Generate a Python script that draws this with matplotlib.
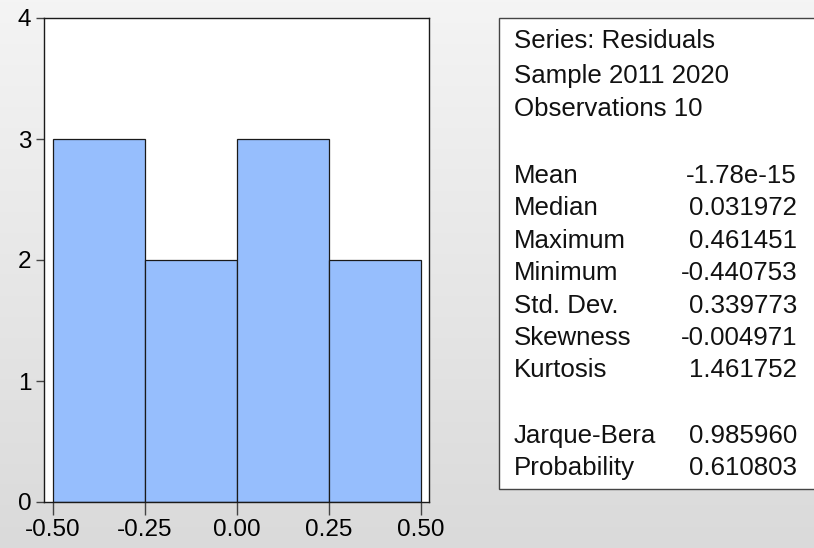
import numpy as np
import matplotlib
matplotlib.use("Agg")
import matplotlib.pyplot as plt
from matplotlib.patches import Rectangle

plt.rcParams['font.family'] = ['Liberation Sans', 'DejaVu Sans']

# Data
bin_edges = [-0.50, -0.25, 0.00, 0.25]
bin_width = 0.25
counts = [3, 2, 3, 2]
xticks = [-0.50, -0.25, 0.00, 0.25, 0.50]
xtick_labels = ["-0.50", "-0.25", "0.00", "0.25", "0.50"]
yticks = [0, 1, 2, 3, 4]

header_lines = ["Series: Residuals", "Sample 2011 2020", "Observations 10"]
stat_names = ["Mean", "Median", "Maximum", "Minimum", "Std. Dev.", "Skewness", "Kurtosis"]
stat_values = ["-1.78e-15", "0.031972", "0.461451", "-0.440753", "0.339773", "-0.004971", "1.461752"]
test_names = ["Jarque-Bera", "Probability"]
test_values = ["0.985960", "0.610803"]

W, H = 814, 548
fig = plt.figure(figsize=(W / 100, H / 100), dpi=100)

# gradient background
bg = fig.add_axes([0, 0, 1, 1], zorder=-10)
grad = np.linspace(0, 1, 256).reshape(-1, 1)
top_c = np.array([0.957, 0.957, 0.957])
bot_c = np.array([0.855, 0.855, 0.855])
img = top_c + (bot_c - top_c) * grad
img = np.repeat(img[:, None, :], 2, axis=1)
bg.imshow(img, aspect='auto', extent=[0, 1, 0, 1])
bg.set_axis_off()

def fx(px):
    return px / W

def fy(py):
    return 1 - py / H

ax = fig.add_axes([fx(44), fy(502), fx(429) - fx(44), fy(18) - fy(502)])
ax.bar(bin_edges, counts, width=bin_width, align='edge', color='#96befd',
       edgecolor='#1a1a1a', linewidth=0.9)
ax.set_xlim(-0.5245, 0.5217)
ax.set_ylim(0, 4)
ax.set_xticks(xticks)
ax.set_xticklabels(xtick_labels)
ax.set_yticks(yticks)
for s in ax.spines.values():
    s.set_color('#1a1a1a')
    s.set_linewidth(1.0)
ax.tick_params(axis='x', direction='out', length=9, width=1, color='#444444', pad=3, labelsize=17.5)
ax.tick_params(axis='y', direction='out', length=6, width=1, color='#444444', pad=3, labelsize=17.5)

# stats box
box = Rectangle((fx(499), fy(489)), 1.2, fy(18) - fy(489), transform=fig.transFigure,
                facecolor='white', edgecolor='#444444', linewidth=1.0, zorder=1)
fig.patches.append(box)

fs = 18.6
lx = fx(514)
rx = fx(797)
header_y = [48, 83, 116]
for t, y in zip(header_lines, header_y):
    fig.text(lx, fy(y), t, fontsize=fs, va='baseline', ha='left', color='#111111', zorder=2)

stat_y0 = 183
step = 32.4
for i, (n, v) in enumerate(zip(stat_names, stat_values)):
    y = stat_y0 + i * step
    fig.text(lx, fy(y), n, fontsize=fs, va='baseline', ha='left', color='#111111', zorder=2)
    fig.text(rx, fy(y), v, fontsize=fs, va='baseline', ha='right', color='#111111', zorder=2)

test_y0 = 443
for i, (n, v) in enumerate(zip(test_names, test_values)):
    y = test_y0 + i * step
    fig.text(lx, fy(y), n, fontsize=fs, va='baseline', ha='left', color='#111111', zorder=2)
    fig.text(rx, fy(y), v, fontsize=fs, va='baseline', ha='right', color='#111111', zorder=2)

fig.savefig("out.png", dpi=100)
